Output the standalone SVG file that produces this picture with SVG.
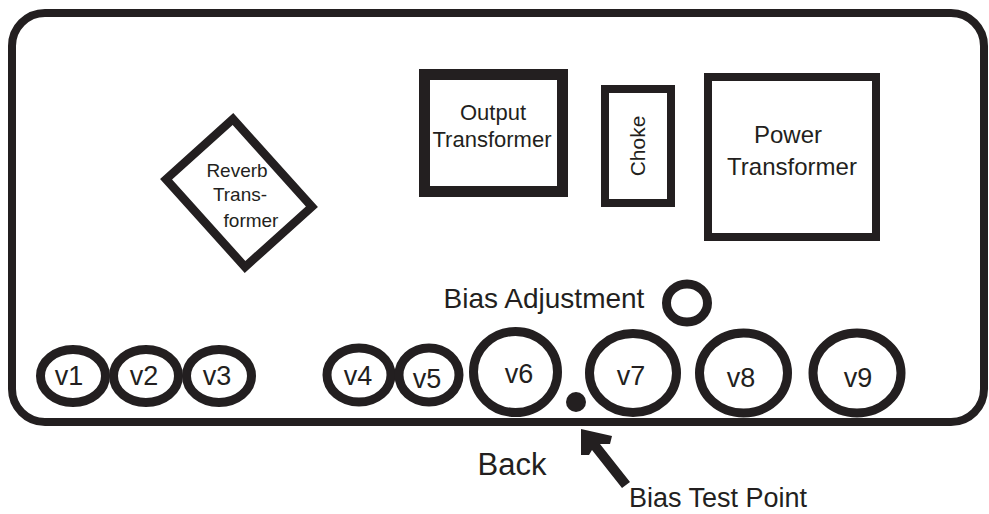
<svg xmlns="http://www.w3.org/2000/svg" width="989" height="514" viewBox="0 0 989 514">
<style>
.s{fill:none;stroke:#231f20}
.t{font-family:"Liberation Sans",Arial,sans-serif;fill:#231f20;text-anchor:middle}
.tube{fill:none;stroke:#231f20;stroke-width:9}
.vl{font-family:"Liberation Sans",Arial,sans-serif;fill:#231f20;text-anchor:middle;font-size:27px}
</style>
<rect width="989" height="514" fill="#fff"/>
<g id="chassis"><rect class="s" x="12" y="13" width="972" height="409" rx="33" stroke-width="8"/></g>
<g id="reverb">
<rect class="s" x="180" y="148" width="118" height="90" transform="rotate(48 239 193)" stroke-width="8.5"/>
<text class="t" font-size="19" x="237" y="177">Reverb</text>
<text class="t" font-size="19" x="240" y="201">Trans-</text>
<text class="t" font-size="19" x="251" y="227">former</text>
</g>
<g id="output">
<rect class="s" x="424.5" y="74.5" width="138" height="117" stroke-width="11"/>
<text class="t" font-size="22" x="493" y="120">Output</text>
<text class="t" font-size="22" x="492" y="147">Transformer</text>
</g>
<g id="choke">
<rect class="s" x="605" y="89" width="66" height="114" stroke-width="8"/>
<text class="t" font-size="21" transform="translate(645 146) rotate(-90)">Choke</text>
</g>
<g id="power">
<rect class="s" x="708" y="77" width="168" height="160" stroke-width="8"/>
<text class="t" font-size="24" x="788" y="143">Power</text>
<text class="t" font-size="24" x="792" y="175">Transformer</text>
</g>
<g id="bias-adjust">
<text class="t" font-size="28" x="544" y="308">Bias Adjustment</text>
<ellipse class="s" cx="687" cy="303" rx="20.5" ry="19" stroke-width="9"/>
</g>
<g id="v1"><ellipse class="tube" cx="73" cy="376" rx="32.5" ry="26.5"/><text class="vl" x="69" y="385">v1</text></g>
<g id="v2"><ellipse class="tube" cx="146" cy="376" rx="32.5" ry="26.5"/><text class="vl" x="144" y="385">v2</text></g>
<g id="v3"><ellipse class="tube" cx="219" cy="376" rx="32.5" ry="26.5"/><text class="vl" x="217" y="385">v3</text></g>
<g id="v4"><ellipse class="tube" cx="359" cy="375" rx="32" ry="27"/><text class="vl" x="358" y="385">v4</text></g>
<g id="v5"><ellipse class="tube" cx="429" cy="375" rx="30" ry="27"/><text class="vl" x="427" y="388">v5</text></g>
<g id="v6"><ellipse class="tube" cx="515.5" cy="372" rx="42" ry="40.5"/><text class="vl" x="519" y="383">v6</text></g>
<g id="v7"><ellipse class="tube" cx="633" cy="373" rx="43.5" ry="39.5"/><text class="vl" x="631" y="385">v7</text></g>
<g id="v8"><ellipse class="tube" cx="743.5" cy="373" rx="44" ry="40"/><text class="vl" x="741" y="387">v8</text></g>
<g id="v9"><ellipse class="tube" cx="857" cy="373" rx="44" ry="40"/><text class="vl" x="858" y="387">v9</text></g>
<g id="bias-test-point">
<circle cx="576" cy="402" r="10" fill="#231f20"/>
<text class="t" font-size="27" x="718" y="507">Bias Test Point</text>
</g>
<g id="back"><text class="t" font-size="31" x="512" y="475">Back</text></g>
<g id="connectors">
<polygon fill="#231f20" points="581,429 612,436 610,444 600,444 630,482 622,488 592,450 589,455 581,455"/>
</g>
</svg>
